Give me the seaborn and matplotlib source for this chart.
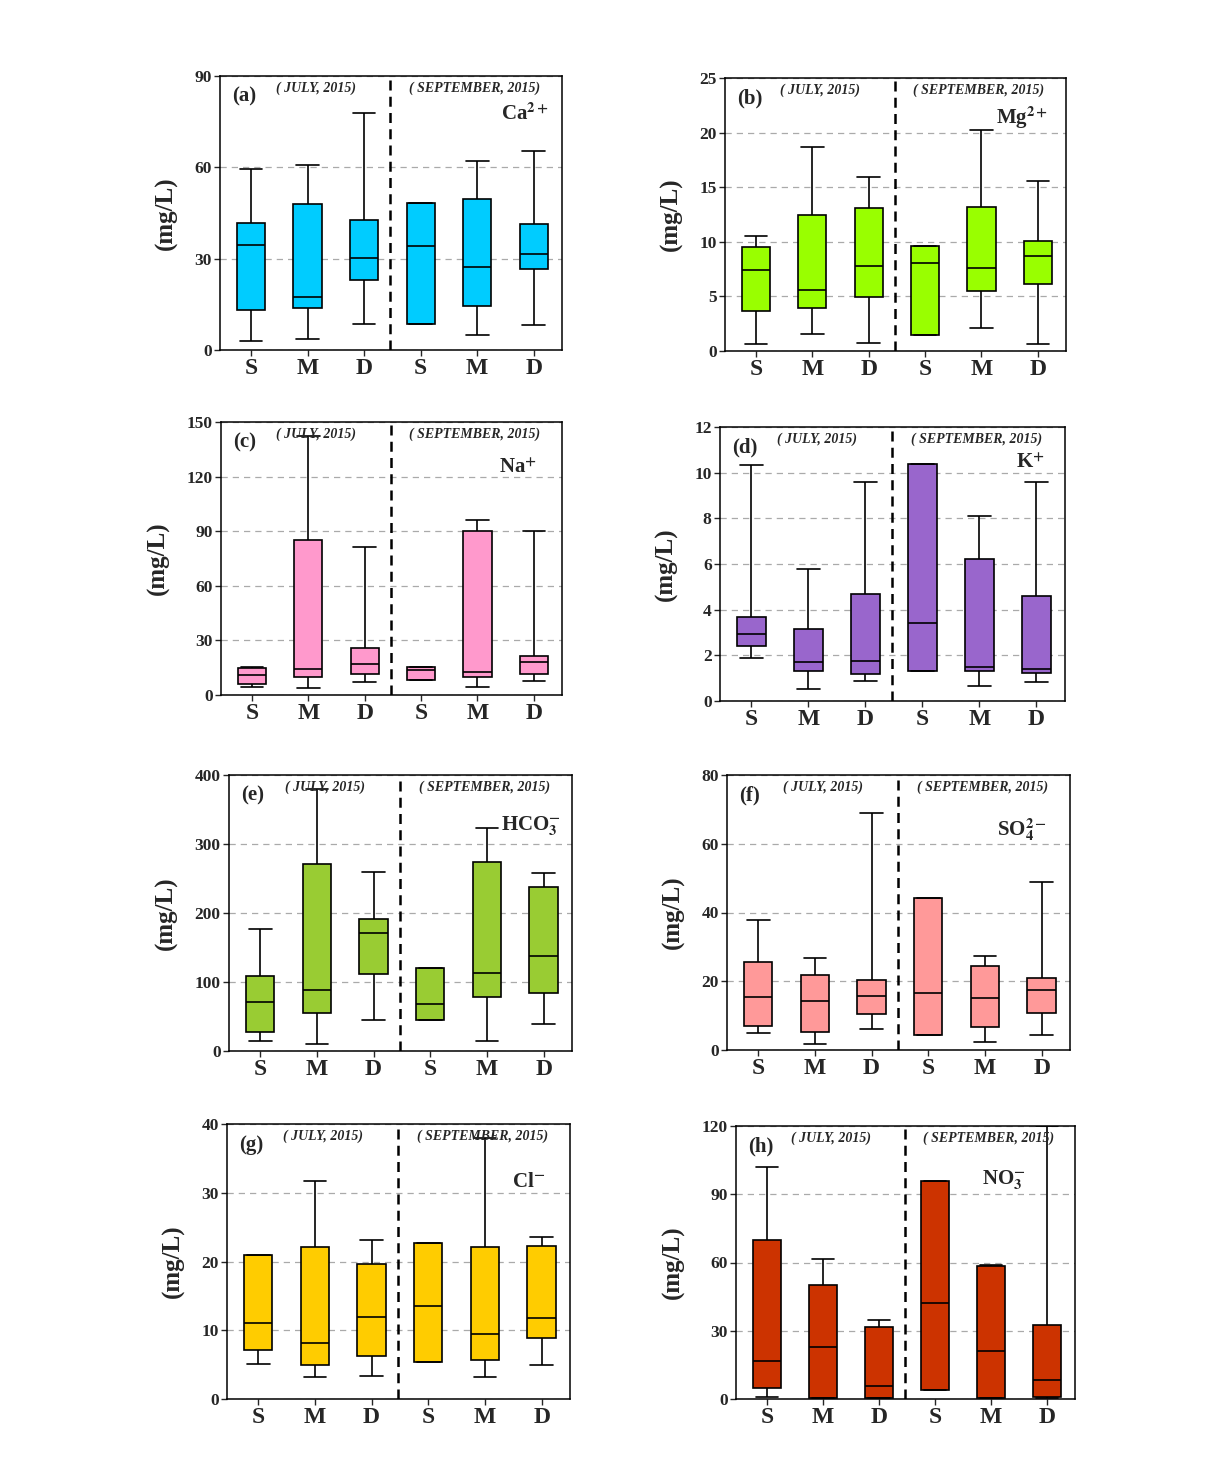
import numpy as np
import pandas as pd
import matplotlib
matplotlib.use("Agg")
import matplotlib.pyplot as plt
import seaborn as sns

# five-number summaries per box: [min, q1, median, q3, max]
# order: S, M, D (July 2015) then S, M, D (September 2015)
groups = ["S_jul", "M_jul", "D_jul", "S_sep", "M_sep", "D_sep"]
tick_labels = ["S", "M", "D", "S", "M", "D"]

ca = [[3.0, 13.0, 34.5, 41.8, 59.6], [3.5, 13.9, 17.3, 48.1, 60.9], [8.7, 23.0, 30.1, 42.6, 78.0],
      [8.4, 8.4, 34.3, 48.4, 48.4], [4.8, 14.5, 27.3, 49.6, 62.1], [8.3, 26.7, 31.4, 41.4, 65.3]]
mg = [[0.6, 3.66, 7.4, 9.5, 10.55], [1.55, 3.96, 5.55, 12.5, 18.7], [0.7, 4.9, 7.8, 13.1, 15.9],
      [1.43, 1.43, 8.1, 9.63, 9.63], [2.07, 5.5, 7.6, 13.2, 20.2], [0.67, 6.1, 8.7, 10.1, 15.6]]
na = [[4.6, 6.2, 11.0, 15.0, 15.6], [3.7, 9.9, 14.1, 85.3, 142.5], [7.2, 11.7, 17.2, 25.7, 81.4],
      [8.3, 8.3, 13.8, 15.4, 15.4], [4.6, 10.1, 12.5, 89.9, 95.9], [7.7, 11.7, 18.3, 21.6, 89.9]]
k = [[1.89, 2.43, 2.93, 3.66, 10.35], [0.51, 1.33, 1.71, 3.16, 5.78], [0.88, 1.2, 1.77, 4.67, 9.61],
     [1.32, 1.32, 3.4, 10.38, 10.38], [0.66, 1.33, 1.49, 6.22, 8.12], [0.83, 1.24, 1.4, 4.6, 9.59]]
hco3 = [[14, 27.1, 70.6, 108.8, 177], [10.6, 55.1, 89, 270.4, 379], [45.5, 111.7, 170.3, 191, 259.7],
        [44.5, 44.5, 68.7, 120.9, 120.9], [14, 77.9, 113.7, 273.3, 322.6], [39.2, 84.2, 137.4, 237, 257.3]]
so4 = [[5.0, 6.9, 15.3, 25.6, 37.7], [1.84, 5.1, 14.2, 21.9, 26.8], [6.2, 10.5, 15.6, 20.4, 69.0],
       [4.4, 4.4, 16.5, 44.2, 44.2], [2.2, 6.7, 15.1, 24.5, 27.3], [4.4, 10.7, 17.6, 20.9, 48.8]]
cl = [[5.1, 7.2, 11.0, 20.9, 20.9], [3.2, 5.0, 8.1, 22.1, 31.7], [3.4, 6.3, 11.9, 19.7, 23.2],
      [5.4, 5.4, 13.5, 22.7, 22.7], [3.2, 5.7, 9.4, 22.1, 37.9], [4.9, 8.9, 11.8, 22.2, 23.5]]
no3 = [[0.9, 4.8, 16.7, 70.1, 102.1], [0.3, 0.3, 23.0, 50.0, 61.5], [0.3, 0.3, 5.7, 31.5, 34.8],
       [4.0, 4.0, 42.0, 95.7, 95.7], [0.3, 0.3, 21.2, 58.5, 58.8], [0.5, 0.7, 8.3, 32.5, 120.0]]

panels = [
    # tag, ion label, data, colour, yticks, axes box in pixels (l, t, r, b), ion label xy
    ("(a)", r"Ca$^{\mathbf{2+}}$", ca, "#00CCFF", [0, 30, 60, 90], (220, 76, 562, 350), (0.89, 0.86)),
    ("(b)", r"Mg$^{\mathbf{2+}}$", mg, "#99FF00", [0, 5, 10, 15, 20, 25], (725, 78, 1066, 351), (0.87, 0.855)),
    ("(c)", r"Na$^{\mathbf{+}}$", na, "#FF99CC", [0, 30, 60, 90, 120, 150], (221, 422, 562, 695), (0.87, 0.83)),
    ("(d)", r"K$^{\mathbf{+}}$", k, "#9966CC", [0, 2, 4, 6, 8, 10, 12], (720, 427, 1065, 701), (0.9, 0.87)),
    ("(e)", r"HCO$_{\mathbf{3}}^{\mathbf{-}}$", hco3, "#99CC33", [0, 100, 200, 300, 400], (229, 775, 572, 1051), (0.88, 0.815)),
    ("(f)", r"SO$_{\mathbf{4}}^{\mathbf{2-}}$", so4, "#FF9999", [0, 20, 40, 60, 80], (727, 775, 1070, 1050), (0.86, 0.80)),
    ("(g)", r"Cl$^{\mathbf{-}}$", cl, "#FFCC00", [0, 10, 20, 30, 40], (227, 1124, 570, 1399), (0.88, 0.79)),
    ("(h)", r"NO$_{\mathbf{3}}^{\mathbf{-}}$", no3, "#CC3300", [0, 30, 60, 90, 120], (736, 1126, 1075, 1399), (0.79, 0.80)),
]

sns.set_style("ticks")
plt.rcParams["font.family"] = ["Liberation Serif", "DejaVu Serif"]
plt.rcParams["mathtext.fontset"] = "stix"

W, H = 1230, 1473
fig = plt.figure(figsize=(W / 100, H / 100), dpi=100)

for tag, ion, stats, col, yticks, box, ion_xy in panels:
    l, t, r, b = box
    ax = fig.add_axes([l / W, 1 - b / H, (r - l) / W, (b - t) / H])

    df = pd.DataFrame([(g, v) for g, s in zip(groups, stats) for v in s], columns=["grp", "val"])
    sns.boxplot(data=df, x="grp", y="val", order=groups, color=col, saturation=1,
                whis=np.inf, width=0.5, linecolor="black", linewidth=1.2,
                showfliers=False, capwidths=0.4, ax=ax)

    ax.set_xlim(-0.55, 5.5)
    ax.set_ylim(yticks[0], yticks[-1])
    ax.set_yticks(yticks)
    ax.set_xticks(range(6))
    ax.set_xticklabels(tick_labels, fontsize=17, fontweight="bold")
    for lab in ax.get_yticklabels():
        lab.set_fontsize(12.5)
        lab.set_fontweight("bold")
    ax.set_xlabel("")
    ax.set_ylabel("(mg/L)", fontsize=18, fontweight="bold", labelpad=12)
    ax.tick_params(axis="both", length=4, width=1, pad=2)

    ax.set_axisbelow(True)
    ax.yaxis.grid(True, linestyle=(0, (5, 4)), color="#aaaaaa", linewidth=0.9)
    ax.axvline(2.46, color="black", linestyle=(0, (4, 2.5)), linewidth=1.8)
    for sp in ax.spines.values():
        sp.set_visible(True)
        sp.set_linewidth(1.1)
        sp.set_color("black")

    ax.text(0.035, 0.925, tag, transform=ax.transAxes, fontsize=15, fontweight="bold", va="center")
    ax.text(0.28, 0.955, "( JULY, 2015)", transform=ax.transAxes, fontsize=10,
            fontweight="bold", style="italic", ha="center", va="center")
    ax.text(0.745, 0.955, "( SEPTEMBER, 2015)", transform=ax.transAxes, fontsize=10,
            fontweight="bold", style="italic", ha="center", va="center")
    ax.text(ion_xy[0], ion_xy[1], ion, transform=ax.transAxes, fontsize=15,
            fontweight="bold", ha="center", va="center")

fig.savefig("out.png", dpi=100)
plt.close(fig)
